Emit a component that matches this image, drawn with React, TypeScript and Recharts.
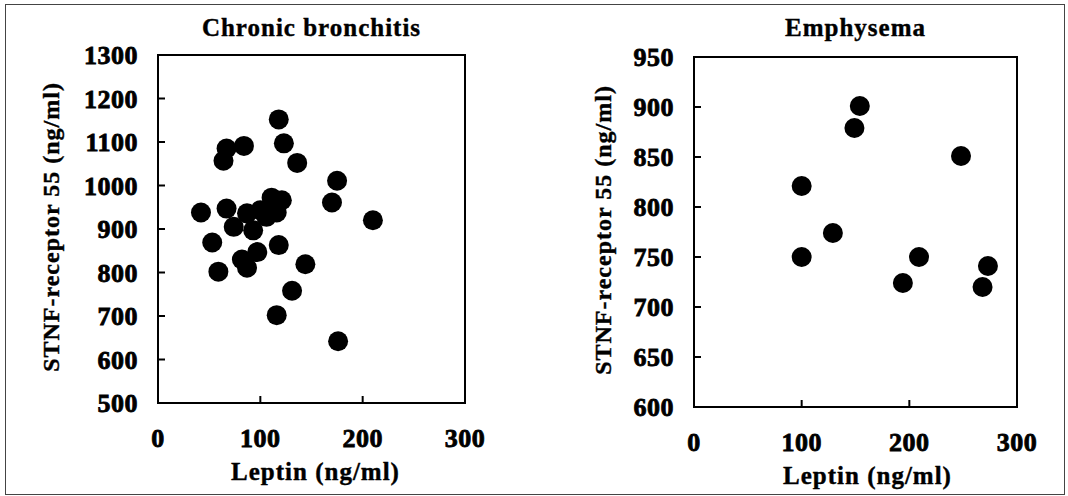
import { ScatterChart, Scatter, XAxis, YAxis, ReferenceArea, Label } from "recharts";

const FONT = "Liberation Serif, DejaVu Serif, serif";

// Leptin axis shared by both panels
const leptinTicks = [0, 100, 200, 300];

// Chronic bronchitis panel
const bronchitisTicks = [500, 600, 700, 800, 900, 1000, 1100, 1200, 1300];
const bronchitisLeptin = [
  118, 123, 136, 67, 84, 64, 175, 170, 210, 42, 67, 53, 59, 118, 144, 131, 116, 176,
  82, 87, 97, 93, 74, 87, 100, 111, 121, 116, 106,
];
const bronchitisStnf = [
  1152, 1097, 1052, 1085, 1091, 1057, 1011, 961, 920, 938, 947, 869, 802, 863, 819, 758,
  702, 642, 830, 811, 847, 897, 905, 936, 943, 972, 966, 938, 928,
];

// Emphysema panel
const emphysemaTicks = [600, 650, 700, 750, 800, 850, 900, 950];
const emphysemaLeptin = [154, 149, 248, 100, 129, 100, 209, 194, 273, 268];
const emphysemaStnf = [901, 879, 851, 821, 774, 750, 750, 724, 741, 720];

const toPoints = (xs: number[], ys: number[]) => xs.map((x, i) => ({ x, y: ys[i] }));

const Dot = (p: any) => <circle cx={p.cx} cy={p.cy} r={10} fill="#000" />;

// scanned-print look: bold serif with a hairline stroke to thicken it
const digitStyle = { fontFamily: FONT, fontWeight: "bold", fontSize: 26, letterSpacing: 0.5 } as const;
const titleStyle = { fontFamily: FONT, fontWeight: "bold", fontSize: 24, letterSpacing: 1 } as const;

function makeYTick(domain: [number, number]) {
  return (p: any) => {
    const v = p.payload.value;
    const inner = v !== domain[0] && v !== domain[1];
    return (
      <g>
        {inner && <line x1={p.x} x2={p.x + 7} y1={p.y} y2={p.y} stroke="#000" strokeWidth={2} />}
        <text x={p.x - 20} y={p.y + 9} textAnchor="end" style={digitStyle} fill="#000" stroke="#000" strokeWidth={0.8}>
          {v}
        </text>
      </g>
    );
  };
}

const XTick = (p: any) => {
  const v = p.payload.value;
  const inner = v !== 0 && v !== 300;
  return (
    <g>
      {inner && <line x1={p.x} x2={p.x} y1={p.y} y2={p.y - 7} stroke="#000" strokeWidth={2} />}
      <text x={p.x} y={p.y + 44} textAnchor="middle" style={digitStyle} fill="#000" stroke="#000" strokeWidth={0.8}>
        {v}
      </text>
    </g>
  );
};

function Panel({
  title,
  xs,
  ys,
  yTicks,
  left,
  width,
  margin,
  yAxisWidth,
  yTitleX,
  xTitleDx,
}: {
  title: string;
  xs: number[];
  ys: number[];
  yTicks: number[];
  left: number;
  width: number;
  margin: { top: number; right: number; bottom: number; left: number };
  yAxisWidth: number;
  yTitleX: number;
  xTitleDx: number;
}) {
  const yDomain: [number, number] = [yTicks[0], yTicks[yTicks.length - 1]];
  const plotLeft = margin.left + yAxisWidth;
  const plotWidth = width - plotLeft - margin.right;
  return (
    <div style={{ position: "absolute", left, top: 0, width, height: 496 }}>
      <div
        style={{
          position: "absolute",
          left: plotLeft,
          width: plotWidth,
          top: 15,
          textAlign: "center",
          fontFamily: FONT,
          fontWeight: "bold",
          fontSize: 25,
          lineHeight: "25px",
          letterSpacing: 1,
          WebkitTextStroke: "0.4px #000",
        }}
      >
        {title}
      </div>
      <ScatterChart width={width} height={496} margin={margin}>
        <XAxis
          type="number"
          dataKey="x"
          domain={[0, 300]}
          ticks={leptinTicks}
          interval={0}
          axisLine={false}
          tickLine={false}
          tickSize={0}
          tickMargin={0}
          height={80}
          tick={XTick}
          allowDataOverflow
        >
          <Label
            content={(lp: any) => {
              const vb = lp.viewBox;
              return (
                <text
                  x={vb.x + vb.width / 2 + xTitleDx}
                  y={vb.y + 77}
                  textAnchor="middle"
                  style={{ ...titleStyle, fontSize: 25 }}
                  fill="#000"
                  stroke="#000"
                  strokeWidth={0.4}
                >
                  Leptin (ng/ml)
                </text>
              );
            }}
          />
        </XAxis>
        <YAxis
          type="number"
          dataKey="y"
          domain={yDomain}
          ticks={yTicks}
          interval={0}
          axisLine={false}
          tickLine={false}
          tickSize={0}
          tickMargin={0}
          width={yAxisWidth}
          tick={makeYTick(yDomain)}
          allowDataOverflow
        >
          <Label
            content={(lp: any) => {
              const vb = lp.viewBox;
              const cx = vb.x + yTitleX;
              const cy = vb.y + vb.height / 2 - 2;
              return (
                <text
                  x={cx}
                  y={cy}
                  transform={`rotate(-90 ${cx} ${cy})`}
                  textAnchor="middle"
                  dominantBaseline="central"
                  style={titleStyle}
                  fill="#000"
                  stroke="#000"
                  strokeWidth={0.4}
                >
                  STNF-receptor 55 (ng/ml)
                </text>
              );
            }}
          />
        </YAxis>
        <ReferenceArea
          x1={0}
          x2={300}
          y1={yDomain[0]}
          y2={yDomain[1]}
          fill="none"
          stroke="#000"
          strokeWidth={2}
          ifOverflow="visible"
        />
        <Scatter data={toPoints(xs, ys)} shape={Dot} isAnimationActive={false} />
      </ScatterChart>
    </div>
  );
}

export default function App() {
  return (
    <div style={{ position: "relative", width: 1068, height: 496, background: "#fff", overflow: "hidden" }}>
      <style>{"body{margin:0}"}</style>
      <div
        style={{
          position: "absolute",
          left: 5,
          top: 4,
          width: 1058,
          height: 489,
          border: "1px solid #444",
        }}
      />
      <Panel
        title="Chronic bronchitis"
        xs={bronchitisLeptin}
        ys={bronchitisStnf}
        yTicks={bronchitisTicks}
        left={0}
        width={520}
        margin={{ top: 55, right: 55, bottom: 13, left: 0 }}
        yAxisWidth={158}
        yTitleX={51}
        xTitleDx={4}
      />
      <Panel
        title="Emphysema"
        xs={emphysemaLeptin}
        ys={emphysemaStnf}
        yTicks={emphysemaTicks}
        left={540}
        width={528}
        margin={{ top: 57, right: 51, bottom: 9, left: 0 }}
        yAxisWidth={154}
        yTitleX={63}
        xTitleDx={12}
      />
    </div>
  );
}
